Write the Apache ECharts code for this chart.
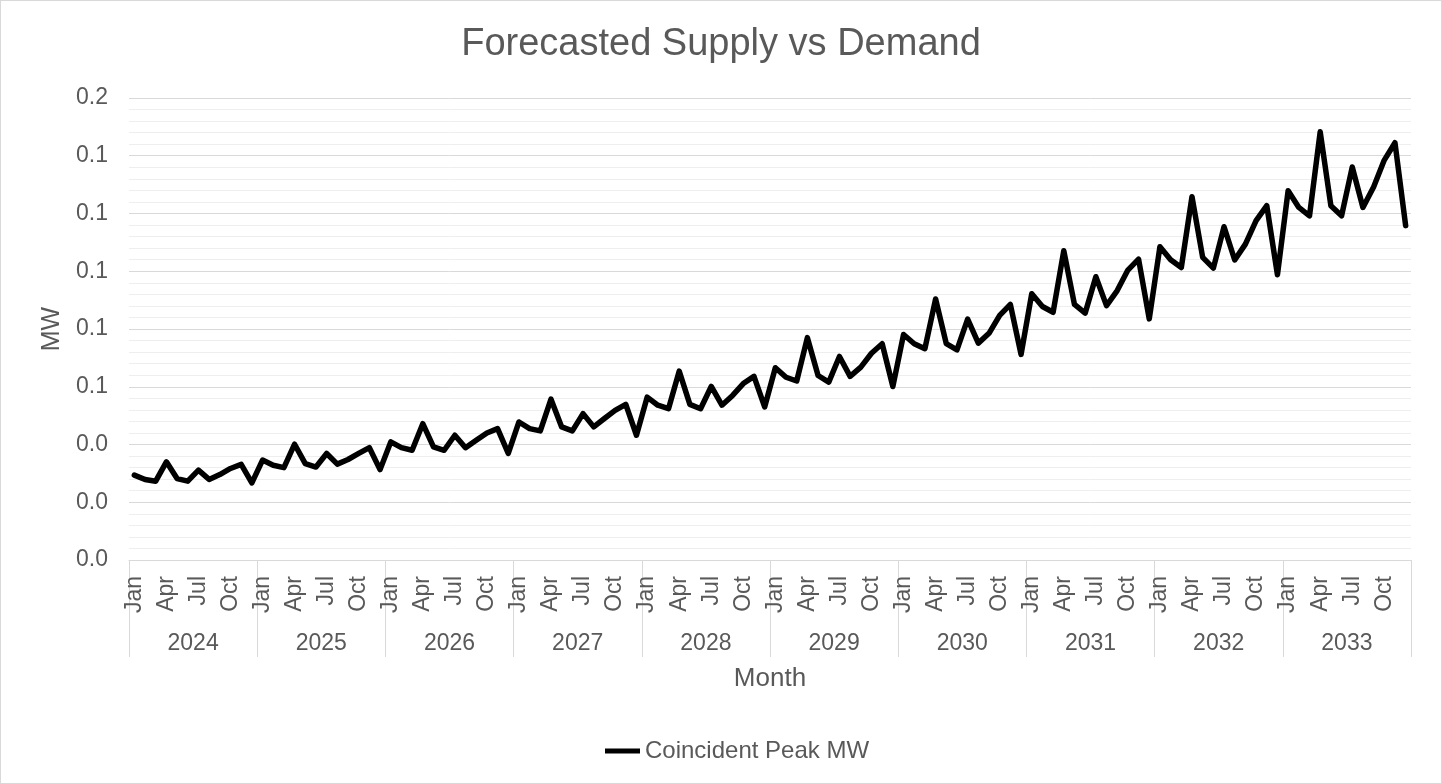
<!DOCTYPE html>
<html>
<head>
<meta charset="utf-8">
<script src="https://cdn.jsdelivr.net/npm/echarts@6/dist/echarts.min.js"></script>
<style>
html,body{margin:0;padding:0;background:#fff;}
#chart{width:1440px;height:782px;border:1px solid #d9d9d9;}
</style>
</head>
<body>
<div id="chart"></div>
<script>
var years = ['2024','2025','2026','2027','2028','2029','2030','2031','2032','2033'];
var monthNames = ['Jan','Feb','Mar','Apr','May','Jun','Jul','Aug','Sep','Oct','Nov','Dec'];
var yTicks = [0, 0.02, 0.04, 0.06, 0.08, 0.10, 0.12, 0.14, 0.16];

// Coincident Peak MW, one row per year (Jan..Dec)
var peakMW = [
  0.0294, 0.0279, 0.0273, 0.0340, 0.0282, 0.0273, 0.0311, 0.0279, 0.0296, 0.0317, 0.0331, 0.0267,
  0.0346, 0.0328, 0.0320, 0.0401, 0.0334, 0.0322, 0.0369, 0.0332, 0.0348, 0.0369, 0.0389, 0.0313,
  0.0409, 0.0389, 0.0380, 0.0472, 0.0392, 0.0380, 0.0432, 0.0389, 0.0415, 0.0440, 0.0455, 0.0369,
  0.0478, 0.0455, 0.0447, 0.0557, 0.0461, 0.0447, 0.0507, 0.0461, 0.0490, 0.0518, 0.0539, 0.0432,
  0.0564, 0.0536, 0.0524, 0.0654, 0.0539, 0.0524, 0.0601, 0.0536, 0.0570, 0.0611, 0.0636, 0.0530,
  0.0666, 0.0633, 0.0620, 0.0770, 0.0639, 0.0616, 0.0705, 0.0636, 0.0668, 0.0716, 0.0749, 0.0601,
  0.0781, 0.0749, 0.0732, 0.0904, 0.0749, 0.0728, 0.0834, 0.0751, 0.0785, 0.0847, 0.0885, 0.0712,
  0.0922, 0.0878, 0.0858, 0.1071, 0.0885, 0.0855, 0.0981, 0.0881, 0.0933, 0.1004, 0.1042, 0.0835,
  0.1085, 0.1040, 0.1013, 0.1258, 0.1048, 0.1011, 0.1154, 0.1039, 0.1094, 0.1175, 0.1227, 0.0988,
  0.1279, 0.1221, 0.1192, 0.1483, 0.1227, 0.1192, 0.1361, 0.1221, 0.1292, 0.1385, 0.1445, 0.1158
];

var months = [];
years.forEach(function (y) {
  monthNames.forEach(function (m) { months.push(m); });
});

var textColor = '#595959';
var font = 'Liberation Sans, Arial, sans-serif';
var tickSize = 23;

var myChart = echarts.init(document.getElementById('chart'));
var option = {
  textStyle: { fontFamily: font },
  title: {
    text: 'Forecasted Supply vs Demand',
    left: 'center',
    top: 20,
    textStyle: { color: textColor, fontSize: 38, fontWeight: 'normal', fontFamily: font }
  },
  legend: {
    top: 733,
    left: 599,
    icon: 'rect',
    itemWidth: 35,
    itemHeight: 5,
    textStyle: { color: textColor, fontSize: 24, fontFamily: font },
    data: ['Coincident Peak MW']
  },
  grid: { left: 128, right: 30, top: 97, bottom: 223 },
  xAxis: [
    {
      type: 'category',
      data: months,
      position: 'bottom',
      axisLine: { lineStyle: { color: '#d9d9d9', width: 1 } },
      axisTick: { show: false },
      axisLabel: {
        rotate: 90,
        margin: 16,
        color: textColor,
        fontSize: tickSize,
        fontFamily: font,
        interval: 0,
        formatter: function (v, i) {
          return (i % 3 === 0) ? v : '';
        }
      },
      splitLine: { show: false }
    },
    {
      type: 'category',
      data: years,
      position: 'bottom',
      name: 'Month',
      nameLocation: 'middle',
      nameGap: 106,
      nameTextStyle: { color: textColor, fontSize: 26, fontFamily: font },
      axisLine: { show: false },
      axisTick: { show: true, length: 97, lineStyle: { color: '#d9d9d9' } },
      axisLabel: { color: textColor, fontSize: tickSize, fontFamily: font, margin: 72 },
      splitLine: { show: false }
    }
  ],
  yAxis: {
    type: 'value',
    min: 0,
    max: 0.16,
    interval: 0.02,
    name: 'MW',
    nameLocation: 'middle',
    nameGap: 64,
    nameTextStyle: { color: textColor, fontSize: 25, fontFamily: font },
    axisLine: { show: false },
    axisTick: { show: false },
    axisLabel: {
      color: textColor,
      fontSize: tickSize,
      fontFamily: font,
      margin: 21,
      formatter: function (v) { return v.toFixed(1); }
    },
    splitLine: { lineStyle: { color: '#d9d9d9', width: 1 } },
    minorTick: { show: false, splitNumber: 5 },
    minorSplitLine: { show: true, lineStyle: { color: '#eeeeee', width: 1 } }
  },
  series: [
    {
      name: 'Coincident Peak MW',
      type: 'line',
      xAxisIndex: 0,
      data: peakMW,
      showSymbol: false,
      symbol: 'none',
      lineStyle: { color: '#000000', width: 5.5, join: 'round', cap: 'round' },
      itemStyle: { color: '#000000' },
      animation: false
    }
  ]
};
myChart.setOption(option);
</script>
</body>
</html>
